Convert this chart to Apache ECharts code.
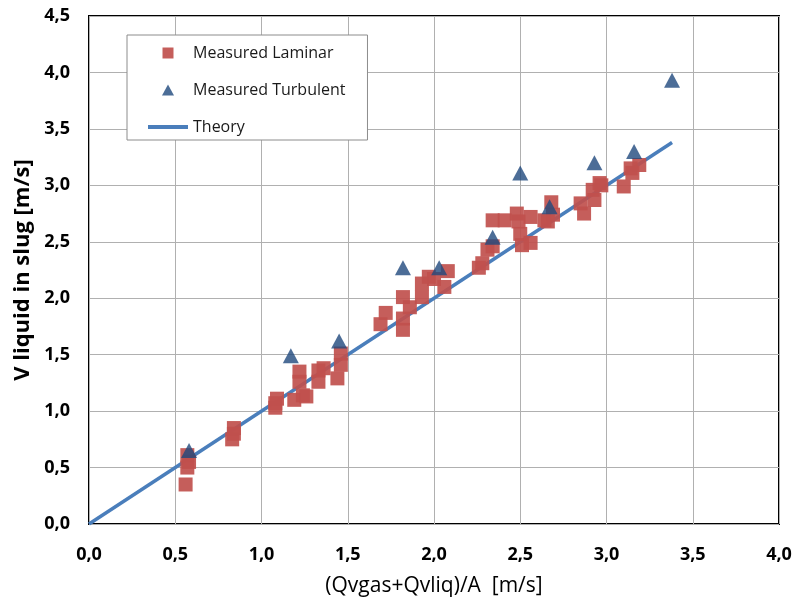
<!DOCTYPE html>
<html>
<head>
<meta charset="utf-8">
<script src="https://cdn.jsdelivr.net/npm/echarts@6/dist/echarts.min.js"></script>
<style>
  html, body { margin: 0; padding: 0; background: #fff; }
  #chart { width: 794px; height: 598px; }
</style>
</head>
<body>
<div id="chart"></div>
<script>
// measured points, laminar flow [x, y]
const laminar = [
  [0.56, 0.35], [0.57, 0.50], [0.57, 0.61], [0.58, 0.55],
  [0.83, 0.75], [0.84, 0.80], [0.84, 0.85],
  [1.08, 1.03], [1.09, 1.11], [1.08, 1.07],
  [1.19, 1.10], [1.22, 1.26], [1.22, 1.35], [1.24, 1.14], [1.26, 1.13],
  [1.33, 1.26], [1.33, 1.36], [1.36, 1.38], [1.44, 1.29], [1.46, 1.41], [1.46, 1.51],
  [1.69, 1.77], [1.72, 1.87], [1.82, 1.72], [1.82, 1.82], [1.82, 2.01], [1.86, 1.92],
  [1.93, 2.01], [1.93, 2.13], [1.97, 2.19], [2.00, 2.17], [2.06, 2.10], [2.08, 2.24],
  [2.26, 2.27], [2.28, 2.31], [2.31, 2.43], [2.34, 2.46], [2.34, 2.69], [2.41, 2.69],
  [2.48, 2.75], [2.50, 2.57], [2.49, 2.68], [2.51, 2.47], [2.56, 2.49], [2.56, 2.72],
  [2.64, 2.69], [2.66, 2.68], [2.68, 2.85], [2.69, 2.74],
  [2.85, 2.84], [2.87, 2.75], [2.92, 2.96], [2.93, 2.87], [2.96, 3.02], [2.97, 3.00],
  [3.10, 2.99], [3.14, 3.15], [3.15, 3.11], [3.19, 3.18]
];

// measured points, turbulent flow
const turbulent = [
  [0.58, 0.65], [1.17, 1.49], [1.45, 1.62], [1.82, 2.27], [2.03, 2.27],
  [2.34, 2.54], [2.50, 3.11], [2.67, 2.81], [2.93, 3.20], [3.16, 3.30], [3.38, 3.93]
];

// theory line end points
const theoryX = [0, 3.38];
const theoryY = [0, 3.38];

const seriesNames = ["Measured Laminar", "Measured Turbulent", "Theory"];
const xTitle = "(Qvgas+Qvliq)/A  [m/s]";
const yTitle = "V liquid in slug [m/s]";

const fmt = (v) => v.toFixed(1).replace(".", ",");
const fontFam = "'Open Sans', 'Noto Sans', sans-serif";

var chartDom = document.getElementById("chart");
var myChart = echarts.init(chartDom);

const option = {
  animation: false,
  backgroundColor: "#fff",
  grid: {
    left: 89, right: 15, top: 16, bottom: 74,
    outerBoundsMode: "none",
    containLabel: false,
    show: true,
    borderColor: "#000",
    borderWidth: 2,
  },
  legend: {
    orient: "vertical",
    left: 127,
    top: 35,
    padding: [10, 22, 5, 21],
    itemWidth: 40,
    itemHeight: 11,
    itemGap: 21,
    backgroundColor: "#fff",
    borderColor: "#8c8c8c",
    borderWidth: 1,
    textStyle: { fontFamily: fontFam, fontSize: 16, lineHeight: 16, color: "#1a1a1a" },
    data: [
      { name: seriesNames[0], icon: "path://M0,0h11v11h-11z" },
      { name: seriesNames[1], icon: "path://M6,0L12,11L0,11Z" },
      { name: seriesNames[2], icon: "path://M0,0h40v4h-40z" },
    ],
  },
  xAxis: {
    type: "value",
    min: 0, max: 4, interval: 0.5,
    name: xTitle,
    nameLocation: "middle",
    nameGap: 52,
    nameTextStyle: { fontFamily: fontFam, fontSize: 21, color: "#000" },
    axisLine: { show: false },
    axisTick: { show: false },
    axisLabel: {
      formatter: fmt, margin: 22,
      fontFamily: fontFam, fontSize: 18, fontWeight: "bold", color: "#000",
    },
    splitLine: { lineStyle: { color: "#b0b0b0", width: 1 } },
  },
  yAxis: {
    type: "value",
    min: 0, max: 4.5, interval: 0.5,
    name: yTitle,
    nameLocation: "middle",
    nameGap: 54,
    nameTextStyle: { fontFamily: fontFam, fontSize: 22, fontWeight: "bold", color: "#000" },
    axisLine: { show: false },
    axisTick: { show: false },
    axisLabel: {
      formatter: fmt, margin: 19,
      fontFamily: fontFam, fontSize: 18, fontWeight: "bold", color: "#000",
    },
    splitLine: { lineStyle: { color: "#b0b0b0", width: 1 } },
  },
  series: [
    {
      name: seriesNames[2],
      type: "line",
      data: theoryX.map((x, i) => [x, theoryY[i]]),
      symbol: "none",
      z: 2,
      lineStyle: { color: "#4a7ebb", width: 3.5 },
      itemStyle: { color: "#4a7ebb" },
    },
    {
      name: seriesNames[0],
      type: "scatter",
      data: laminar,
      symbol: "rect",
      symbolSize: 14,
      z: 3,
      itemStyle: { color: "#c0504d", opacity: 0.92 },
    },
    {
      name: seriesNames[1],
      type: "scatter",
      data: turbulent,
      symbol: "triangle",
      symbolSize: [16, 15],
      z: 4,
      itemStyle: { color: "#1f497d" },
    },
  ],
};

myChart.setOption(option);
</script>
</body>
</html>
